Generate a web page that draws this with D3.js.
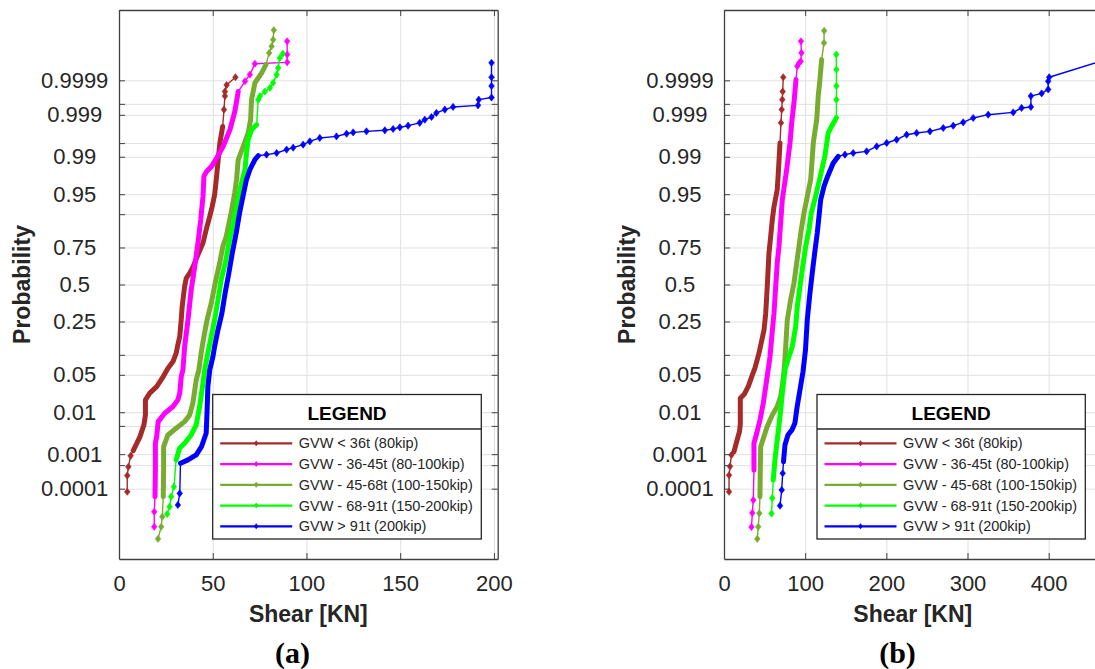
<!DOCTYPE html>
<html>
<head>
<meta charset="utf-8">
<script src="https://cdn.jsdelivr.net/npm/d3@7"></script>
<style>
  html, body { margin: 0; padding: 0; background: #fff; }
  svg { display: block; font-family: Arial, "Liberation Sans", Helvetica, sans-serif; }
</style>
</head>
<body>
<svg id="chart" width="1095" height="669"></svg>
<script>
// probability axis (normal probability paper)
const probTicks = [0.0001, 0.0005, 0.001, 0.005, 0.01, 0.05, 0.10, 0.25, 0.5, 0.75, 0.90, 0.95, 0.99, 0.995, 0.999, 0.9995, 0.9999];
const probLabels = ['0.0001', '', '0.001', '', '0.01', '0.05', '', '0.25', '0.5', '0.75', '', '0.95', '0.99', '', '0.999', '', '0.9999'];
const shearTicksA = [0, 50, 100, 150, 200];
const shearTicksB = [0, 100, 200, 300, 400];

const seriesNames = ['GVW < 36t (80kip)', 'GVW - 36-45t (80-100kip)', 'GVW - 45-68t (100-150kip)', 'GVW - 68-91t (150-200kip)', 'GVW > 91t (200kip)'];
const seriesColors = ['#a52a2a', '#ff00ff', '#77ac30', '#00ff00', '#0000ff'];

// panel (a): [shear kN, cumulative probability]
const shearA_lt36 = [[4.4,0.00008],[4.4,0.00025],[5.0,0.00045],[6.2,0.0009],[7.6,0.00124],[11.2,0.0028],[13.3,0.0053],[14.1,0.0088],[14.1,0.0178],[16.4,0.0239],[20.1,0.0314],[23.6,0.0468],[26.1,0.0637],[28.8,0.0802],[30.5,0.1055],[31.4,0.136],[32.4,0.1716],[33.2,0.26],[33.7,0.344],[35.0,0.486],[35.9,0.5464],[37.7,0.582],[39.4,0.6245],[42.1,0.7058],[44.8,0.775],[46.5,0.8406],[48.4,0.8925],[49.7,0.922],[51.0,0.949],[51.9,0.972],[52.9,0.9885],[53.8,0.995],[55.3,0.998],[56.0,0.99928],[56.5,0.9997],[56.5,0.99978],[57.4,0.99986],[62.1,0.99992]];
const shearA_36_45 = [[18.8,0.0000051],[18.8,0.0000174],[19.2,0.0000555],[19.4,0.000365],[19.4,0.00192],[20.1,0.0028],[20.9,0.00625],[24.4,0.0095],[28.8,0.0131],[31.4,0.0178],[32.4,0.0239],[33.2,0.0468],[34.1,0.06],[35.0,0.129],[36.8,0.26],[38.5,0.461],[40.4,0.6285],[42.1,0.775],[43.6,0.881],[44.8,0.9457],[45.3,0.9755],[46.7,0.9803],[49.4,0.9843],[52.1,0.9894],[55.6,0.9941],[59.2,0.9976],[61.8,0.9992],[63.6,0.99978],[67.2,0.999893],[69.8,0.999934],[72.5,0.999971],[89.7,0.999974],[89.7,0.999986],[89.7,0.9999953]];
const shearA_45_68 = [[20.8,0.0000018],[22.5,0.0000051],[23.1,0.0000117],[23.6,0.0000555],[23.8,0.000365],[23.8,0.00157],[26.1,0.00307],[30.5,0.00442],[35.0,0.00625],[37.7,0.00875],[39.4,0.0153],[41.2,0.0412],[42.6,0.06],[43.8,0.1055],[45.3,0.1716],[47.0,0.26],[49.2,0.367],[51.3,0.51],[53.7,0.6515],[55.4,0.756],[57.2,0.809],[59.8,0.9035],[61.7,0.952],[62.7,0.972],[63.6,0.9885],[66.3,0.9941],[68.9,0.99711],[70.2,0.99866],[70.7,0.99962],[72.5,0.99988],[76.1,0.999942],[78.4,0.999969],[80.1,0.9999877],[81.4,0.9999928],[82.2,0.9999959],[82.6,0.9999982]];
const shearA_68_91 = [[25.7,0.0000145],[27.0,0.000026],[27.8,0.0000555],[29.3,0.000115],[30.5,0.0007],[32.3,0.00143],[35.0,0.00192],[38.5,0.00307],[41.2,0.0053],[43.0,0.0131],[44.8,0.0361],[45.7,0.06],[47.4,0.1055],[49.2,0.1716],[51.0,0.26],[52.8,0.39],[54.5,0.534],[56.7,0.652],[59.0,0.7925],[60.8,0.868],[63.0,0.931],[64.9,0.963],[67.2,0.9817],[68.0,0.9917],[68.9,0.99583],[70.7,0.9976],[73.4,0.9982],[74.3,0.99962],[75.2,0.9997],[77.8,0.99978],[80.5,0.99983],[82.2,0.99988],[84.1,0.999934],[84.9,0.99996],[85.8,0.9999817],[87.4,0.999987]];
const shearA_gt91 = [[31.4,0.0000296],[32.4,0.000071],[32.8,0.000565],[36.8,0.0007],[41.2,0.00096],[44.0,0.00157],[46.5,0.00337],[47.0,0.0112],[47.4,0.0314],[48.4,0.06],[50.1,0.0946],[51.0,0.129],[52.8,0.2046],[54.9,0.301],[56.6,0.438],[58.6,0.582],[60.4,0.716],[62.5,0.8257],[64.3,0.9035],[66.1,0.9457],[68.0,0.972],[69.8,0.9817],[72.5,0.9885],[74.3,0.9905],[78.7,0.991],[84.1,0.9917],[89.4,0.993],[92.9,0.99365],[98.2,0.99457],[101.8,0.99543],[107.1,0.9962],[116.0,0.99651],[121.4,0.99699],[124.9,0.9972],[132.0,0.99736],[141.8,0.99751],[146.2,0.99769],[149.8,0.9979],[154.2,0.99809],[160.4,0.99838],[163.1,0.99866],[166.7,0.99886],[169.3,0.99911],[173.8,0.99928],[178.2,0.99939],[191.5,0.99945],[191.9,0.99962],[198.7,0.99967],[198.7,0.99985],[198.7,0.99992],[198.7,0.999973]];

// panel (b)
const shearB_lt36 = [[6.2,0.00008],[6.2,0.000257],[7.4,0.00046],[9.2,0.00095],[12.3,0.00116],[15.6,0.0021],[19.1,0.0037],[20.1,0.0055],[20.1,0.0192],[25.2,0.0231],[30.2,0.0324],[34.5,0.048],[38.2,0.0644],[43.1,0.1055],[49.3,0.204],[51.4,0.301],[53.3,0.486],[55.4,0.716],[57.5,0.809],[59.5,0.881],[61.6,0.922],[65.6,0.958],[66.9,0.9789],[69.0,0.99503],[70.2,0.99838],[71.1,0.99928],[71.8,0.99962],[72.3,0.99978],[73.0,0.99992]];
const shearB_36_45 = [[33.9,0.000005],[34.9,0.0000158],[36.1,0.000043],[36.9,0.000365],[36.9,0.00192],[40.3,0.00337],[44.3,0.0068],[48.4,0.0153],[52.6,0.0412],[56.7,0.0946],[58.5,0.157],[61.6,0.301],[63.7,0.486],[65.6,0.652],[67.7,0.756],[69.8,0.868],[71.8,0.9387],[77.2,0.9817],[81.3,0.99503],[83.4,0.99838],[86.2,0.99953],[88.7,0.999905],[90.3,0.999965],[92.7,0.999973],[94.5,0.999976],[95.4,0.9999877],[94.8,0.9999953]];
const shearB_45_68 = [[41.0,0.0000018],[42.2,0.0000051],[43.5,0.0000154],[44.3,0.0000555],[44.7,0.000365],[45.2,0.00157],[48.6,0.0026],[53.0,0.00474],[59.5,0.00875],[65.6,0.0131],[69.8,0.0206],[72.3,0.0361],[74.5,0.0675],[78.0,0.26],[82.1,0.39],[86.2,0.51],[89.5,0.652],[92.4,0.756],[95.2,0.841],[98.5,0.9035],[102.6,0.9457],[106.8,0.972],[108.0,0.9843],[110.0,0.99503],[114.2,0.99866],[116.1,0.9997],[118.2,0.999905],[120.3,0.999979],[123.2,0.9999946],[123.4,0.9999981]];
const shearB_68_91 = [[58.5,0.000015],[59.5,0.00005],[60.7,0.000185],[62.8,0.0007],[64.7,0.00164],[67.1,0.00404],[69.6,0.0101],[71.4,0.0206],[75.1,0.06],[80.0,0.0946],[84.1,0.129],[88.3,0.222],[90.3,0.344],[93.6,0.486],[96.4,0.6057],[100.6,0.756],[104.7,0.841],[107.5,0.9035],[112.9,0.9457],[118.2,0.9741],[124.4,0.9905],[128.4,0.99711],[132.6,0.99802],[138.5,0.99881],[138.5,0.99962],[138.5,0.99985],[138.5,0.999955],[138.3,0.999986]];
const shearB_gt91 = [[69.0,0.000028],[71.1,0.000091],[72.3,0.000293],[73.3,0.000625],[75.1,0.00173],[78.8,0.00307],[83.7,0.00404],[87.4,0.00585],[89.9,0.0123],[93.6,0.0274],[97.3,0.0557],[100.4,0.117],[102.6,0.26],[105.9,0.438],[108.7,0.582],[111.7,0.716],[114.9,0.8257],[117.0,0.8925],[119.1,0.9387],[123.2,0.963],[127.5,0.9752],[134.6,0.9866],[140.8,0.9902],[149.0,0.991],[159.2,0.9917],[175.7,0.99235],[188.1,0.99406],[200.4,0.99503],[212.7,0.99583],[225.0,0.99682],[237.3,0.99711],[253.7,0.99736],[270.1,0.99782],[282.4,0.99809],[294.7,0.99843],[307.0,0.99879],[325.5,0.99901],[356.3,0.99914],[366.6,0.99935],[378.1,0.99939],[378.1,0.9997],[391.3,0.99975],[399.4,0.99981],[399.4,0.999893],[400.6,0.99992],[462.0,0.999975]];

// probability span where observations are dense enough to merge into a solid band
const denseA = [[0.00124, 0.998], [0.0000555, 0.99978], [0.0000555, 0.999969], [0.0007, 0.9982], [0.000565, 0.9905]];
const denseB = [[0.00116, 0.99503], [0.000365, 0.999905], [0.0000555, 0.999979], [0.000185, 0.99881], [0.000625, 0.9902]];

// inverse standard normal CDF (Acklam)
function probit(p) {
  const a = [-3.969683028665376e+01, 2.209460984245205e+02, -2.759285104469687e+02, 1.383577518672690e+02, -3.066479806614716e+01, 2.506628277459239e+00];
  const b = [-5.447609879822406e+01, 1.615858368580409e+02, -1.556989798598866e+02, 6.680131188771972e+01, -1.328068155288572e+01];
  const c = [-7.784894002430293e-03, -3.223964580411365e-01, -2.400758277161838e+00, -2.549732539343734e+00, 4.374664141464968e+00, 2.938163982698783e+00];
  const d = [7.784695709041462e-03, 3.224671290700398e-01, 2.445134137142996e+00, 3.754408661907416e+00];
  const pl = 0.02425;
  let q, r;
  if (p < pl) {
    q = Math.sqrt(-2 * Math.log(p));
    return (((((c[0]*q+c[1])*q+c[2])*q+c[3])*q+c[4])*q+c[5]) / ((((d[0]*q+d[1])*q+d[2])*q+d[3])*q+1);
  }
  if (p > 1 - pl) {
    q = Math.sqrt(-2 * Math.log(1 - p));
    return -(((((c[0]*q+c[1])*q+c[2])*q+c[3])*q+c[4])*q+c[5]) / ((((d[0]*q+d[1])*q+d[2])*q+d[3])*q+1);
  }
  q = p - 0.5; r = q * q;
  return (((((a[0]*r+a[1])*r+a[2])*r+a[3])*r+a[4])*r+a[5])*q / (((((b[0]*r+b[1])*r+b[2])*r+b[3])*r+b[4])*r+1);
}

const svg = d3.select('#chart');
const textColor = '#262626';
const axisColor = '#404040';
const gridColor = '#e0e0e0';
const diamond = 'M0,-3.6L2.8,0L0,3.6L-2.8,0Z';
const diamondSmall = 'M0,-3L2.4,0L0,3L-2.4,0Z';

function drawPanel(cfg) {
  const { left, right, top, bottom } = cfg;
  const x = d3.scaleLinear().domain(cfg.xDomain).range([left, right]);
  const z = d3.scaleLinear().domain([-5, 5]).range([bottom, top]);
  const zTicks = probTicks.map(probit);

  const g = svg.append('g');
  const clipId = 'clip-' + cfg.id;
  g.append('clipPath').attr('id', clipId)
    .append('rect').attr('x', left).attr('y', top).attr('width', right - left).attr('height', bottom - top);

  // grid
  g.append('g').attr('transform', `translate(0,${bottom})`)
    .call(d3.axisBottom(x).tickValues(cfg.xTicks).tickSize(-(bottom - top)).tickFormat(''))
    .call(s => { s.select('.domain').remove(); s.selectAll('line').attr('stroke', gridColor).attr('stroke-width', 1); });
  g.append('g').attr('transform', `translate(${left},0)`)
    .call(d3.axisLeft(z).tickValues(zTicks).tickSize(-(right - left)).tickFormat(''))
    .call(s => { s.select('.domain').remove(); s.selectAll('line').attr('stroke', gridColor).attr('stroke-width', 1); });

  // series
  const plot = g.append('g').attr('clip-path', `url(#${clipId})`);
  const line = d3.line().x(d => x(d[0])).y(d => z(probit(d[1])));
  cfg.series.forEach((pts, i) => {
    const col = seriesColors[i];
    const [lo, hi] = cfg.dense[i];
    const sg = plot.append('g');
    sg.append('path').attr('d', line(pts)).attr('fill', 'none')
      .attr('stroke', col).attr('stroke-width', 1.4).attr('stroke-linejoin', 'round');
    sg.append('path').attr('d', line(pts.filter(d => d[1] >= lo && d[1] <= hi))).attr('fill', 'none')
      .attr('stroke', col).attr('stroke-width', 5).attr('stroke-linejoin', 'round').attr('stroke-linecap', 'round');
    sg.selectAll('path.mk').data(pts.filter(d => d[1] < lo || d[1] > hi)).join('path')
      .attr('class', 'mk').attr('d', diamond).attr('fill', col).attr('stroke', col).attr('stroke-width', 0.6)
      .attr('transform', d => `translate(${x(d[0])},${z(probit(d[1]))})`);
  });

  // axes with inward ticks
  const axB = g.append('g').attr('transform', `translate(0,${bottom})`)
    .call(d3.axisBottom(x).tickValues(cfg.xTicks).tickSizeInner(-6).tickSizeOuter(0).tickPadding(16.5));
  const axT = g.append('g').attr('transform', `translate(0,${top})`)
    .call(d3.axisTop(x).tickValues(cfg.xTicks).tickSizeInner(-6).tickSizeOuter(0).tickFormat(''));
  const axL = g.append('g').attr('transform', `translate(${left},0)`)
    .call(d3.axisLeft(z).tickValues(zTicks).tickSizeInner(-6).tickSizeOuter(0).tickFormat((d, i) => probLabels[i]));
  const axR = g.append('g').attr('transform', `translate(${right},0)`)
    .call(d3.axisRight(z).tickValues(zTicks).tickSizeInner(-6).tickSizeOuter(0).tickFormat(''));
  [axB, axT, axL, axR].forEach(a => {
    a.select('.domain').attr('stroke', axisColor).attr('stroke-width', 1.3);
    a.selectAll('.tick line').attr('stroke', axisColor).attr('stroke-width', 1);
    a.selectAll('text').attr('fill', textColor).attr('font-size', 22)
      .attr('font-family', 'Arial, "Liberation Sans", Helvetica, sans-serif');
  });
  axL.selectAll('text').attr('text-anchor', 'middle').attr('x', cfg.yLabelX - left);

  // axis titles
  g.append('text').attr('x', (left + right) / 2).attr('y', 622)
    .attr('text-anchor', 'middle').attr('font-size', 23).attr('font-weight', 'bold').attr('fill', textColor)
    .text('Shear [KN]');
  g.append('text').attr('transform', `translate(${cfg.yTitleX},${(top + bottom) / 2}) rotate(-90)`)
    .attr('text-anchor', 'middle').attr('dy', '0.35em').attr('font-size', 23).attr('font-weight', 'bold').attr('fill', textColor)
    .text('Probability');
  g.append('text').attr('x', cfg.tagX).attr('y', 663)
    .attr('text-anchor', 'middle').attr('font-size', 30).attr('font-weight', 'bold')
    .attr('font-family', '"Times New Roman", "Liberation Serif", serif').attr('fill', '#000')
    .text(cfg.tag);

  // legend
  const L = cfg.legend;
  const lg = g.append('g');
  lg.append('rect').attr('x', L.x0).attr('y', L.y0).attr('width', L.x1 - L.x0).attr('height', L.y1 - L.y0)
    .attr('fill', '#fff').attr('stroke', textColor).attr('stroke-width', 1.3);
  lg.append('line').attr('x1', L.x0).attr('x2', L.x1).attr('y1', L.y0 + 34.5).attr('y2', L.y0 + 34.5)
    .attr('stroke', textColor).attr('stroke-width', 1.3);
  lg.append('text').attr('x', (L.x0 + L.x1) / 2).attr('y', L.y0 + 25.5).attr('text-anchor', 'middle')
    .attr('font-size', 19).attr('font-weight', 'bold').attr('fill', '#000').text('LEGEND');
  seriesNames.forEach((name, i) => {
    const ry = L.y0 + 48.8 + i * 20.75;
    lg.append('line').attr('x1', L.x0 + 7.5).attr('x2', L.x0 + 79.5).attr('y1', ry).attr('y2', ry)
      .attr('stroke', seriesColors[i]).attr('stroke-width', 2.2);
    lg.append('path').attr('d', diamondSmall).attr('fill', seriesColors[i])
      .attr('transform', `translate(${L.x0 + 43.5},${ry})`);
    lg.append('text').attr('x', L.x0 + 86).attr('y', ry).attr('dy', '0.35em')
      .attr('font-size', 14.5).attr('fill', textColor).text(name);
  });
}

drawPanel({
  id: 'a', left: 119, right: 497.7, top: 10, bottom: 559,
  xDomain: [0, 202], xTicks: shearTicksA,
  series: [shearA_lt36, shearA_36_45, shearA_45_68, shearA_68_91, shearA_gt91], dense: denseA,
  yLabelX: 74.7, yTitleX: 22, tag: '(a)', tagX: 292.5,
  legend: { x0: 212.7, x1: 481.3, y0: 394.5, y1: 539 }
});
drawPanel({
  id: 'b', left: 724, right: 1101.6, top: 10, bottom: 559,
  xDomain: [0, 465.2], xTicks: shearTicksB,
  series: [shearB_lt36, shearB_36_45, shearB_45_68, shearB_68_91, shearB_gt91], dense: denseB,
  yLabelX: 680, yTitleX: 627, tag: '(b)', tagX: 897.5,
  legend: { x0: 817, x1: 1085.3, y0: 394.5, y1: 539 }
});
</script>
</body>
</html>
